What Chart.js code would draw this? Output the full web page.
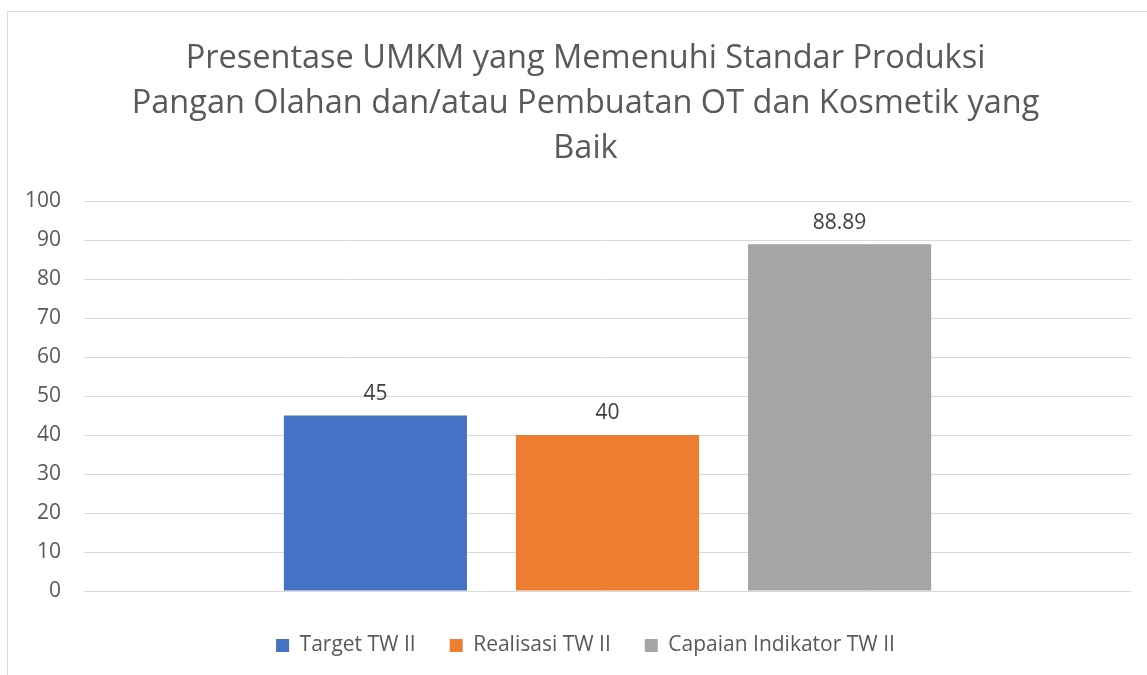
<!DOCTYPE html>
<html>
<head>
<meta charset="utf-8">
<script src="https://cdn.jsdelivr.net/npm/chart.js@4/dist/chart.umd.min.js"></script>
<style>
    html, body {
        margin: 0;
        padding: 0;
        background: #ffffff;
        overflow: hidden;
    }
    .chart-box {
        position: absolute;
        left: 7px;
        top: 11px;
        width: 1155px;
        height: 680px;
        border-left: 1px solid #d9d9d9;
        border-top: 1px solid #d9d9d9;
    }
</style>
</head>
<body>
<div class="chart-box">
    <canvas class="umkm-chart"></canvas>
</div>
<script>
const titleLines = [
    'Presentase UMKM yang Memenuhi Standar Produksi',
    'Pangan Olahan dan/atau Pembuatan OT dan Kosmetik yang',
    'Baik'
];
const categories = [''];
const seriesNames = ['Target TW II', 'Realisasi TW II', 'Capaian Indikator TW II'];
const seriesValues = [[45], [40], [88.89]];
const seriesColors = ['#4472C4', '#ED7D31', '#A5A5A5'];
const yTicks = [0, 10, 20, 30, 40, 50, 60, 70, 80, 90, 100];

const ctx = document.querySelector('.umkm-chart');

// draws the value above each bar, like the data labels in the original
const barLabels = {
    id: 'barLabels',
    afterDatasetsDraw(chart) {
        const c = chart.ctx;
        c.save();
        c.font = '21px "Open Sans"';
        c.fillStyle = '#404040';
        c.textAlign = 'center';
        c.textBaseline = 'bottom';
        chart.data.datasets.forEach((ds, i) => {
            chart.getDatasetMeta(i).data.forEach((bar, j) => {
                c.fillText(String(ds.data[j]), bar.x, bar.y - 11);
            });
        });
        c.restore();
    }
};

new Chart(ctx, {
    type: 'bar',
    data: {
        labels: categories,
        datasets: seriesNames.map((name, i) => ({
            label: name,
            data: seriesValues[i],
            backgroundColor: seriesColors[i],
            categoryPercentage: 0.665,
            barPercentage: 0.789
        }))
    },
    options: {
        responsive: true,
        maintainAspectRatio: false,
        animation: false,
        layout: {
            padding: { left: 0, right: 0, top: 0, bottom: 26 }
        },
        scales: {
            x: {
                display: true,
                afterFit(scale) {
                    scale.height = 10;
                },
                grid: { display: false },
                border: { display: false },
                ticks: { display: false }
            },
            y: {
                min: 0,
                max: 100,
                afterFit(scale) {
                    scale.width = 76;
                },
                afterBuildTicks(scale) {
                    scale.ticks = yTicks.map(v => ({ value: v }));
                },
                border: {
                    display: false
                },
                grid: {
                    color: '#d9d9d9',
                    lineWidth: 1,
                    drawTicks: false
                },
                ticks: {
                    padding: 23,
                    color: '#595959',
                    font: { family: 'Open Sans', size: 21 }
                }
            },
            // empty space on the right side of the plot
            yRight: {
                type: 'linear',
                position: 'right',
                display: true,
                afterFit(scale) {
                    scale.width = 32;
                },
                grid: { display: false },
                border: { display: false },
                ticks: { display: false }
            }
        },
        plugins: {
            title: {
                display: true,
                text: titleLines,
                color: '#595959',
                font: { family: 'Open Sans', size: 32.5, weight: 'normal', lineHeight: 1.385 },
                padding: { top: 24, bottom: 30 }
            },
            legend: {
                display: true,
                position: 'bottom',
                labels: {
                    color: '#595959',
                    font: { family: 'Open Sans', size: 21 },
                    boxWidth: 13,
                    boxHeight: 13,
                    padding: 34
                }
            },
            tooltip: {
                enabled: false
            }
        }
    },
    plugins: [barLabels]
});
</script>
</body>
</html>
